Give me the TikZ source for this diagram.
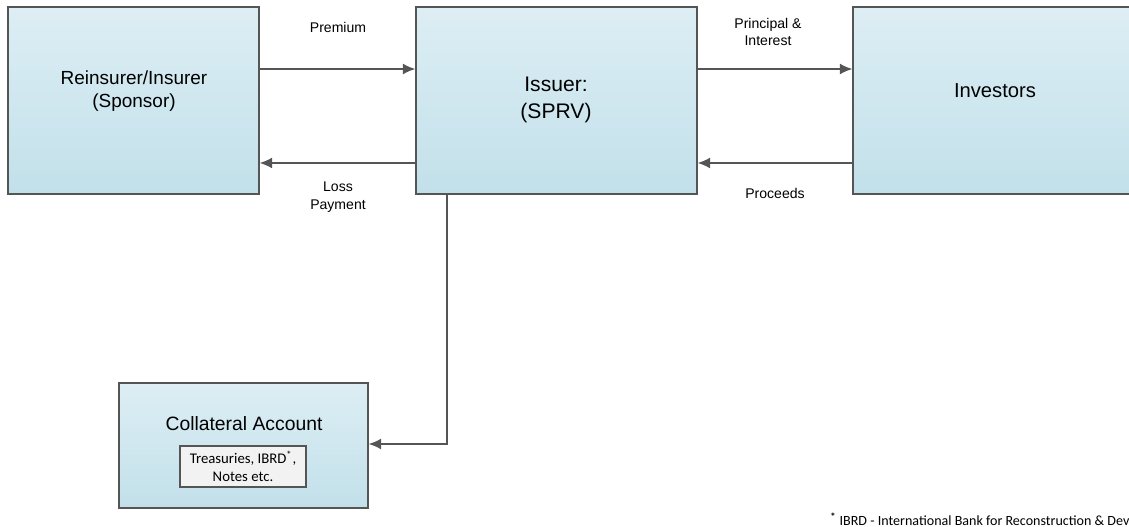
\documentclass[tikz,border=0pt]{standalone}
\usepackage{fontspec}
\setmainfont{Liberation Sans}
\newfontfamily\notefont{Carlito}
\usepackage{tikz}
\usetikzlibrary{calc, arrows.meta}
\definecolor{boxtop}{HTML}{DDEEF4}
\definecolor{boxbottom}{HTML}{C2E0EA}
\definecolor{edge}{HTML}{555555}
\definecolor{inner}{HTML}{F2F2F2}
\tikzstyle{block} = [rectangle, draw=edge, line width=0.8pt, top color=boxtop,
bottom color=boxbottom, minimum height=3.74cm, inner sep=0pt]
\tikzstyle{boxtext} = [align=center, font=\fontsize{10.8}{13.5}\selectfont]
\tikzstyle{flowtext} = [align=center, font=\fontsize{8}{10}\selectfont]
\tikzstyle{line} = [draw=edge, line width=0.85pt, -{Latex[length=2.5mm,width=2.2mm]}]
\tikzstyle{holding} = [rectangle, draw=edge, line width=0.8pt, fill=inner,
minimum width=2.52cm, minimum height=0.82cm, inner sep=0pt, align=center,
font=\notefont\fontsize{8.4}{10.5}\selectfont]

\begin{document}
\begin{tikzpicture}[x=0.02cm, y=-0.02cm]
	\useasboundingbox (0,0) rectangle (1129,527);
	% Place nodes
	\node [block, minimum width=5.02cm] (sponsor) at (133.5,100.5) {};
	\node [block, minimum width=5.62cm] (issuer) at (556.5,100.5) {};
	\node [block, minimum width=5.74cm] (investors) at (996.5,100.5) {};
	\node [block, minimum width=4.98cm, minimum height=2.5cm] (collateral) at (243.5,445.5) {};
	\node [holding] (assets) at (243,466.5) {Treasuries, IBRD\textsuperscript{*},\\Notes etc.};
	%
	\node [boxtext] (sponsorText) at (134,91) {Reinsurer/Insurer\\(Sponsor)};
	\node [boxtext, font=\fontsize{12}{15}\selectfont] (issuerText) at (556,100) {Issuer:\\(SPRV)};
	\node [boxtext, font=\fontsize{11.5}{14}\selectfont] (investorsText) at (995,91) {Investors};
	\node [boxtext, font=\fontsize{11}{13}\selectfont] (collateralText) at (244,424) {Collateral Account};
	%
	\path [line] ([yshift=0.63cm]sponsor.east) -- ([yshift=0.63cm]issuer.west);
	\path [line] ([yshift=-1.25cm]issuer.west) -- ([yshift=-1.25cm]sponsor.east);
	\path [line] ([yshift=0.63cm]issuer.east) -- ([yshift=0.63cm]investors.west);
	\path [line] ([yshift=-1.25cm]investors.west) -- ([yshift=-1.25cm]issuer.east);
	\path [line] ([xshift=-2.19cm]issuer.south) |- ([yshift=0.03cm]collateral.east);
	
	\node [flowtext] (premium) at (338,27) {Premium};
	\node [flowtext] (loss) at (338,197) {Loss\\Payment};
	\node [flowtext] (interest) at (768,32) {Principal \&\\Interest};
	\node [flowtext] (proceeds) at (775,193) {Proceeds};
	
	\node [anchor=west, inner sep=0pt, font=\notefont\fontsize{8}{10}\selectfont] (footnote) at (830,519) {\textsuperscript{\textbf{*}} IBRD - International Bank for Reconstruction \& Dev};
\end{tikzpicture}
\end{document}
